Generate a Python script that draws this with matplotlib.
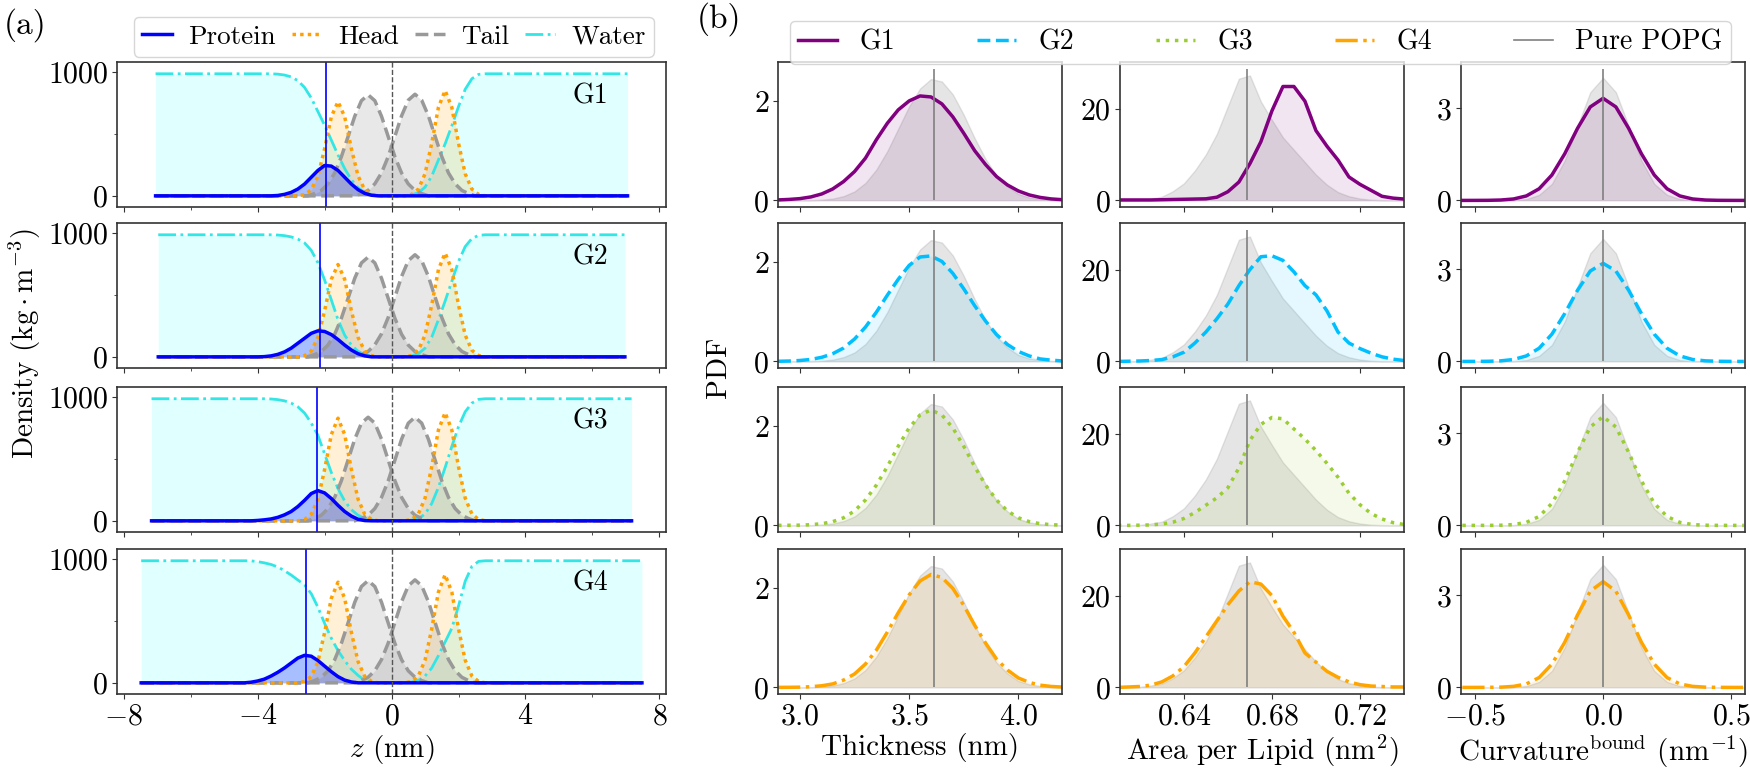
import matplotlib.pyplot as plt
from matplotlib.lines import Line2D
from matplotlib.ticker import FixedLocator, MultipleLocator

plt.rcParams.update({
    "font.family": "serif",
    "font.serif": ["cmr10"],
    "mathtext.fontset": "cm",
    "axes.formatter.use_mathtext": True,
    "axes.unicode_minus": True,
})

# ---------------- (a) density profiles ----------------
groups = ["G1", "G2", "G3", "G4"]
box_half = [7.05, 6.97, 7.17, 7.48]          # half box length (nm)
protein_center = [-1.96, -2.15, -2.24, -2.57]

z_grid = [-4.4, -4.2, -4.0, -3.8, -3.6, -3.4, -3.2, -3.0, -2.8, -2.6, -2.4, -2.2, -2.0,
          -1.8, -1.6, -1.4, -1.2, -1.0, -0.8, -0.6, -0.4, -0.2, 0.0, 0.2, 0.4, 0.6,
          0.8, 1.0, 1.2, 1.4, 1.6, 1.8, 2.0, 2.2, 2.4, 2.6, 2.8, 3.0]
water = [
    [985, 985, 985, 985, 985, 982, 975, 960, 930, 875, 790, 680, 570, 450, 330, 220, 130, 65, 28,
     10, 3, 0, 0, 0, 2, 8, 25, 70, 160, 290, 420, 565, 720, 860, 945, 980, 985, 985],
    [985, 985, 985, 985, 985, 983, 978, 968, 950, 920, 860, 760, 620, 460, 300, 175, 95, 45, 18,
     6, 2, 0, 0, 0, 2, 8, 25, 70, 160, 300, 450, 610, 770, 890, 955, 980, 985, 985],
    [985, 985, 985, 985, 983, 978, 968, 950, 920, 870, 790, 690, 540, 390, 260, 160, 90, 45, 20,
     7, 2, 0, 0, 0, 1, 5, 18, 55, 140, 270, 430, 600, 760, 880, 950, 980, 985, 985],
    [985, 984, 978, 968, 955, 935, 905, 870, 830, 790, 720, 610, 480, 360, 260, 180, 110, 60, 20,
     6, 2, 0, 0, 0, 2, 6, 20, 55, 120, 220, 330, 440, 620, 820, 940, 980, 985, 985],
]

z_head_lo = [-2.8, -2.6, -2.4, -2.2, -2.0, -1.8, -1.6, -1.4, -1.2, -1.0, -0.8, -0.6, -0.4]
z_head_up = [0.4, 0.6, 0.8, 1.0, 1.2, 1.4, 1.6, 1.8, 2.0, 2.2, 2.4, 2.6, 2.8]
head_lo = [
    [0, 10, 48, 160, 380, 638, 760, 638, 380, 160, 48, 10, 0],
    [0, 10, 47, 156, 372, 626, 745, 626, 372, 156, 47, 10, 0],
    [0, 11, 52, 174, 414, 696, 828, 696, 414, 174, 52, 11, 0],
    [0, 11, 51, 171, 406, 682, 812, 682, 406, 171, 51, 11, 0],
]
head_up = [
    [0, 11, 54, 178, 425, 714, 850, 714, 425, 178, 54, 11, 0],
    [0, 11, 53, 176, 419, 704, 838, 704, 419, 176, 53, 11, 0],
    [0, 11, 55, 183, 436, 733, 873, 733, 436, 183, 55, 11, 0],
    [0, 11, 55, 183, 436, 733, 873, 733, 436, 183, 55, 11, 0],
]

z_tail_lo = [-2.5, -2.3, -2.1, -1.9, -1.7, -1.5, -1.3, -1.1, -0.9, -0.7, -0.5, -0.3, -0.1,
             0.1, 0.3, 0.5, 0.7, 0.9, 1.1]
z_tail_up = [-1.1, -0.9, -0.7, -0.5, -0.3, -0.1, 0.1, 0.3, 0.5, 0.7, 0.9, 1.1, 1.3,
             1.5, 1.7, 1.9, 2.1, 2.3, 2.5]
tail_lo = [
    [0, 18, 44, 96, 184, 315, 478, 642, 768, 815, 768, 642, 478, 315, 184, 96, 44, 18, 0],
    [0, 18, 43, 95, 182, 311, 472, 634, 758, 805, 758, 634, 472, 311, 182, 95, 43, 18, 0],
    [0, 18, 45, 99, 189, 323, 490, 659, 788, 836, 788, 659, 490, 323, 189, 99, 45, 18, 0],
    [0, 18, 45, 97, 186, 318, 483, 650, 777, 825, 777, 650, 483, 318, 186, 97, 45, 18, 0],
]
tail_up = [
    [0, 18, 44, 97, 185, 317, 481, 646, 772, 820, 772, 646, 481, 317, 185, 97, 44, 18, 0],
    [0, 18, 44, 97, 186, 318, 483, 649, 776, 824, 776, 649, 483, 318, 186, 97, 44, 18, 0],
    [0, 18, 45, 99, 189, 323, 490, 659, 788, 836, 788, 659, 490, 323, 189, 99, 45, 18, 0],
    [0, 18, 45, 98, 188, 321, 487, 655, 783, 831, 783, 655, 487, 321, 188, 98, 45, 18, 0],
]

protein_z = [
    [-3.6, -3.4, -3.2, -3.0, -2.8, -2.6, -2.4, -2.2, -2.0, -1.8, -1.6, -1.4, -1.2, -1.0, -0.8, -0.6, -0.4],
    [-4.0, -3.8, -3.6, -3.4, -3.2, -3.0, -2.8, -2.6, -2.4, -2.2, -2.0, -1.8, -1.6, -1.4, -1.2, -1.0, -0.8, -0.6],
    [-4.2, -4.0, -3.8, -3.6, -3.4, -3.2, -3.0, -2.8, -2.6, -2.4, -2.2, -2.0, -1.8, -1.6, -1.4, -1.2, -1.0, -0.8, -0.6],
    [-4.4, -4.2, -4.0, -3.8, -3.6, -3.4, -3.2, -3.0, -2.8, -2.6, -2.4, -2.2, -2.0, -1.8, -1.6, -1.4, -1.2, -1.0],
]
protein = [
    [0, 3, 12, 28, 55, 95, 150, 205, 245, 240, 205, 150, 95, 50, 20, 5, 0],
    [0, 2, 8, 20, 40, 70, 110, 150, 190, 210, 205, 180, 140, 95, 55, 25, 8, 0],
    [0, 3, 8, 15, 28, 48, 75, 115, 165, 220, 244, 225, 180, 125, 75, 38, 12, 2, 0],
    [0, 5, 15, 30, 55, 85, 120, 160, 200, 222, 215, 180, 135, 90, 50, 22, 7, 0],
]

# ---------------- (b) distributions ----------------
thickness_x = [2.90, 2.95, 3.00, 3.05, 3.10, 3.15, 3.20, 3.25, 3.30, 3.35, 3.40, 3.45, 3.50, 3.55,
               3.60, 3.65, 3.70, 3.75, 3.80, 3.85, 3.90, 3.95, 4.00, 4.05, 4.10, 4.15, 4.20]
thickness_popg = [0.0, 0.0, 0.0, 0.005, 0.014, 0.036, 0.086, 0.18, 0.35, 0.62, 0.99, 1.44, 1.89, 2.25,
                  2.44, 2.39, 2.13, 1.72, 1.25, 0.83, 0.50, 0.28, 0.13, 0.06, 0.025, 0.009, 0.003]
thickness_groups = [
    [0.01, 0.02, 0.036, 0.07, 0.13, 0.23, 0.38, 0.58, 0.85, 1.22, 1.55, 1.82, 2.0, 2.1,
     2.08, 1.94, 1.68, 1.35, 1.0, 0.72, 0.48, 0.31, 0.19, 0.11, 0.06, 0.03, 0.015],
    [0.003, 0.008, 0.019, 0.04, 0.083, 0.155, 0.27, 0.45, 0.69, 0.99, 1.33, 1.65, 1.93, 2.10,
     2.12, 2.01, 1.77, 1.46, 1.12, 0.81, 0.54, 0.34, 0.20, 0.11, 0.05, 0.026, 0.01],
    [0.001, 0.002, 0.005, 0.014, 0.034, 0.075, 0.153, 0.29, 0.51, 0.81, 1.18, 1.59, 1.96, 2.22,
     2.32, 2.22, 1.96, 1.59, 1.18, 0.81, 0.51, 0.29, 0.153, 0.075, 0.034, 0.014, 0.005],
    [0.001, 0.002, 0.005, 0.014, 0.033, 0.07, 0.148, 0.27, 0.47, 0.75, 1.11, 1.50, 1.86, 2.14,
     2.27, 2.21, 1.99, 1.65, 1.25, 0.89, 0.57, 0.35, 0.19, 0.10, 0.045, 0.019, 0.008],
]

area_x = [0.610, 0.615, 0.620, 0.625, 0.630, 0.635, 0.640, 0.645, 0.650, 0.655, 0.660, 0.665, 0.670,
          0.675, 0.680, 0.685, 0.690, 0.695, 0.700, 0.705, 0.710, 0.715, 0.720, 0.725, 0.730, 0.735, 0.740]
area_popg = [0, 0, 0.1, 0.4, 0.8, 2.0, 3.7, 6.5, 10.0, 14.5, 20.5, 26.5, 27.2, 21.5,
             17.5, 13.7, 11.0, 8.3, 5.6, 3.4, 1.8, 0.9, 0.4, 0.15, 0.05, 0, 0]
area_groups = [
    [0.1, 0.1, 0.1, 0.1, 0.15, 0.2, 0.25, 0.3, 0.35, 0.7, 1.9, 4.0, 8.0, 12.8,
     19.5, 24.8, 24.8, 21.6, 15.2, 11.8, 8.8, 5.1, 3.5, 2.2, 0.9, 0.5, 0.3],
    [0, 0.05, 0.1, 0.2, 0.4, 1.0, 2.0, 4.0, 6.4, 9.3, 12.5, 16.5, 20.0, 22.8,
     23.0, 22.0, 19.5, 16.5, 14.5, 11.0, 6.4, 4.0, 2.8, 1.8, 1.0, 0.5, 0.2],
    [0, 0, 0.05, 0.1, 0.3, 0.7, 1.5, 2.8, 4.4, 6.0, 8.2, 12.5, 18.5, 22.0,
     23.5, 23.2, 21.0, 18.8, 16.3, 13.5, 10.5, 7.0, 4.5, 2.6, 1.4, 0.6, 0.2],
    [0, 0.1, 0.2, 0.5, 1.2, 2.5, 4.5, 7.5, 11.0, 14.5, 18.0, 21.0, 23.0, 22.5,
     20.0, 15.5, 12.0, 7.5, 5.5, 3.5, 2.2, 1.2, 0.6, 0.3, 0.2, 0.1, 0.1],
]

curv_x = [-0.55, -0.50, -0.45, -0.40, -0.35, -0.30, -0.25, -0.20, -0.15, -0.10, -0.05, 0.0,
          0.05, 0.10, 0.15, 0.20, 0.25, 0.30, 0.35, 0.40, 0.45, 0.50, 0.55]
curv_popg = [0, 0, 0, 0.001, 0.009, 0.044, 0.18, 0.54, 1.30, 2.43, 3.53, 4.0,
             3.53, 2.43, 1.30, 0.54, 0.18, 0.044, 0.009, 0.001, 0, 0, 0]
curv_groups = [
    [0, 0.001, 0.003, 0.013, 0.047, 0.146, 0.38, 0.83, 1.52, 2.35, 3.05, 3.33,
     3.05, 2.35, 1.52, 0.83, 0.38, 0.146, 0.047, 0.013, 0.003, 0.001, 0],
    [0, 0.001, 0.005, 0.019, 0.063, 0.18, 0.43, 0.89, 1.56, 2.32, 2.95, 3.2,
     2.95, 2.32, 1.56, 0.89, 0.43, 0.18, 0.063, 0.019, 0.005, 0.001, 0],
    [0, 0, 0.001, 0.006, 0.027, 0.098, 0.29, 0.72, 1.45, 2.38, 3.21, 3.55,
     3.21, 2.38, 1.45, 0.72, 0.29, 0.098, 0.027, 0.006, 0.001, 0, 0],
    [0, 0, 0.002, 0.008, 0.034, 0.113, 0.32, 0.76, 1.47, 2.36, 3.14, 3.45,
     3.14, 2.36, 1.47, 0.76, 0.32, 0.113, 0.034, 0.008, 0.002, 0, 0],
]

popg_mean = [3.615, 0.6685, 0.0]
popg_line_top = [2.65, 28.7, 4.3]

# styles
protein_color = "blue"
head_color = "#ffa000"
tail_color = "#999999"
water_color = "#33e6e6"
group_colors = ["purple", "deepskyblue", "yellowgreen", "orange"]
group_styles = ["-", "--", ":", "-."]
spine_color = "#333333"
tick_fs = 21.5
label_fs = 21

fig = plt.figure(figsize=(17.5, 7.73), dpi=100)
row_y = [0.7322, 0.5239, 0.3118, 0.1022]
row_h = 0.1876


def style_axes(ax):
    for s in ax.spines.values():
        s.set_color(spine_color)
        s.set_linewidth(1.2)
    ax.tick_params(which="both", direction="out", color=spine_color, labelsize=tick_fs, pad=3)
    ax.tick_params(which="minor", length=2.5)


# Panel (a)
for i, g in enumerate(groups):
    ax = fig.add_axes([0.0669, row_y[i], 0.3137, row_h])
    L = box_half[i]

    zw = [-L] + z_grid + [L]
    w = [water[i][0]] + water[i] + [water[i][-1]]
    ax.fill_between(zw, w, color="cyan", alpha=0.12, lw=0)

    zh = [-L] + z_head_lo + z_head_up + [L]
    h = [0] + head_lo[i] + head_up[i] + [0]
    ax.fill_between(zh, h, color="orange", alpha=0.16, lw=0)

    zt1 = [-L] + z_tail_lo + [L]
    t1 = [0] + tail_lo[i] + [0]
    zt2 = [-L] + z_tail_up + [L]
    t2 = [0] + tail_up[i] + [0]
    ax.fill_between(zt1, t1, color="gray", alpha=0.18, lw=0)
    ax.fill_between(zt2, t2, color="gray", alpha=0.18, lw=0)

    zp = [-L] + protein_z[i] + [L]
    p = [0] + protein[i] + [0]
    ax.fill_between(zp, p, color="blue", alpha=0.25, lw=0)

    ax.plot(zw, w, color=water_color, ls="-.", lw=2)
    ax.plot(zt1, t1, color=tail_color, ls="--", lw=2.5)
    ax.plot(zt2, t2, color=tail_color, ls="--", lw=2.5)
    ax.plot(zh, h, color=head_color, ls=(0, (1, 1.2)), lw=2.5)
    ax.plot(zp, p, color=protein_color, ls="-", lw=2.5)

    ax.axvline(0, color="#555555", ls="--", lw=1)
    ax.axvline(protein_center[i], color=protein_color, lw=1.2)

    ax.text(0.862, 0.76, g, transform=ax.transAxes, ha="center", va="center", fontsize=20)

    ax.set_xlim(-8.2, 8.2)
    ax.set_ylim(-90, 1080)
    ax.xaxis.set_major_locator(MultipleLocator(4))
    ax.xaxis.set_minor_locator(MultipleLocator(2))
    ax.yaxis.set_major_locator(FixedLocator([0, 1000]))
    ax.yaxis.set_minor_locator(FixedLocator([500]))
    style_axes(ax)
    if i < 3:
        ax.tick_params(labelbottom=False)
    else:
        ax.set_xlabel(r"$z$ (nm)", fontsize=label_fs, labelpad=2)

fig.text(0.014, 0.556, r"Density $(\mathrm{kg}\cdot\mathrm{m}^{-3})$", rotation=90,
         ha="center", va="center", fontsize=label_fs)

handles_a = [
    Line2D([], [], color=protein_color, lw=2.5),
    Line2D([], [], color=head_color, lw=2.5, ls=(0, (1, 1.2))),
    Line2D([], [], color=tail_color, lw=2.5, ls="--"),
    Line2D([], [], color=water_color, lw=2, ls="-."),
]
fig.legend(handles_a, ["Protein", "Head", "Tail", "Water"], loc="upper left",
           bbox_to_anchor=(0.0686, 0.996), ncol=4,
           fontsize=19.5, handlelength=1.1, handletextpad=0.6, columnspacing=0.6,
           borderpad=0.3, edgecolor="#cccccc", fancybox=True)

# Panel (b)
col_x = [0.4446, 0.64, 0.8349]
col_w = 0.1623
columns = [
    (thickness_x, thickness_popg, thickness_groups),
    (area_x, area_popg, area_groups),
    (curv_x, curv_popg, curv_groups),
]
xlims = [(2.9, 4.2), (0.611, 0.740), (-0.555, 0.555)]
xticks = [[3.0, 3.5, 4.0], [0.64, 0.68, 0.72], [-0.5, 0.0, 0.5]]
yticks = [[0, 2], [0, 20], [0, 3]]
xlabels = ["Thickness (nm)", r"Area per Lipid (nm$^2$)",
           r"Curvature$^{\mathrm{bound}}$ (nm$^{-1}$)"]

for i in range(4):
    for c, (x, ref, grp) in enumerate(columns):
        ax = fig.add_axes([col_x[c], row_y[i], col_w, row_h])
        ax.fill_between(x, ref, color="gray", alpha=0.2, lw=1)
        ax.fill_between(x, grp[i], color=group_colors[i], alpha=0.1, lw=0)
        ax.plot(x, grp[i], color=group_colors[i], ls=group_styles[i], lw=2.5)
        ax.vlines(popg_mean[c], 0, popg_line_top[c], color="gray", lw=1.2)
        ax.set_xlim(*xlims[c])
        top = popg_line_top[c]
        ax.set_ylim(-0.05 * top, 1.05 * top)
        ax.xaxis.set_major_locator(FixedLocator(xticks[c]))
        ax.yaxis.set_major_locator(FixedLocator(yticks[c]))
        style_axes(ax)
        if i < 3:
            ax.tick_params(labelbottom=False)
        else:
            ax.set_xlabel(xlabels[c], fontsize=label_fs, labelpad=2)

fig.text(0.411, 0.525, "PDF", rotation=90, ha="center", va="center", fontsize=label_fs)

handles_b = [Line2D([], [], color=group_colors[k], ls=group_styles[k], lw=2.5) for k in range(4)]
handles_b.append(Line2D([], [], color="gray", lw=1.2))
fig.legend(handles_b, groups + ["Pure POPG"], loc="upper left",
           bbox_to_anchor=(0.4434, 0.991, 0.5537, 0.0), mode="expand", ncol=5,
           fontsize=20, handlelength=1.4, borderpad=0.3,
           edgecolor="#cccccc", fancybox=True)

fig.text(0.002, 0.967, "(a)", fontsize=24, va="center", ha="left")
fig.text(0.398, 0.975, "(b)", fontsize=24, va="center", ha="left")

fig.savefig("out.png", dpi=100)
